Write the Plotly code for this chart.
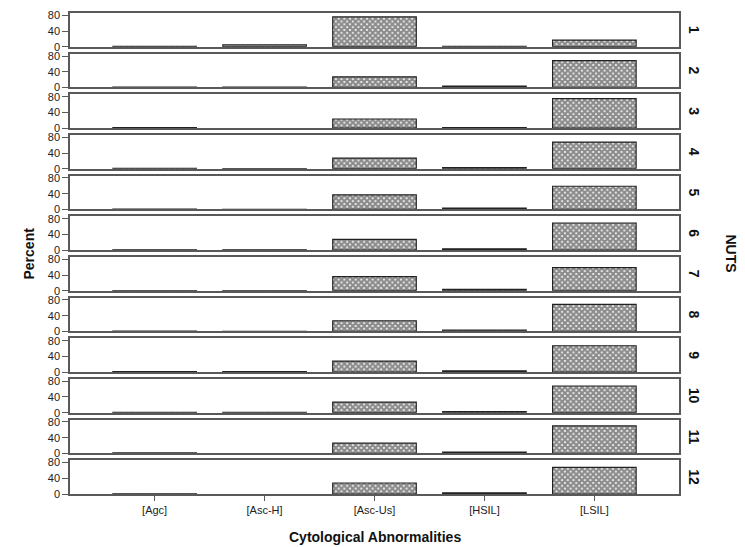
import plotly.graph_objects as go
from plotly.subplots import make_subplots

# Cytological abnormality categories and NUTS regions
categories = ["[Agc]", "[Asc-H]", "[Asc-Us]", "[HSIL]", "[LSIL]"]
nuts = ["1", "2", "3", "4", "5", "6", "7", "8", "9", "10", "11", "12"]

# Percent of cases per category, one value per NUTS region (1..12)
agc = [1, 1, 1, 1, 0.5, 0.5, 0.5, 0.5, 1, 1, 1, 0.5]
asc_h = [5, 0.5, None, 0.3, 0.3, 0.5, 0.5, 0.3, 1, 1, None, None]
asc_us = [76, 27, 23, 27, 37, 27, 36, 27, 28, 27, 26, 28]
hsil = [1, 3, 1, 3, 3, 3, 3.5, 3.5, 3, 3, 3, 3]
lsil = [17, 68, 75, 68, 59, 69, 59, 69, 67, 68, 70, 68]

FONT = "Liberation Sans, Arial, sans-serif"
LINE = "#595959"
n = len(nuts)

fig = make_subplots(rows=n, cols=1, shared_xaxes=False,
                    vertical_spacing=7 / 485)

for i in range(n):
    vals = [agc[i], asc_h[i], asc_us[i], hsil[i], lsil[i]]
    fig.add_trace(
        go.Bar(
            x=categories, y=vals, width=0.76,
            marker=dict(
                color="white",
                line=dict(color="#222222", width=1.2),
                pattern=dict(shape="x", fgcolor="#1a1a1a", bgcolor="#ffffff",
                             size=4, solidity=0.8),
            ),
            showlegend=False, hoverinfo="x+y",
        ),
        row=i + 1, col=1,
    )
    last = i == n - 1
    fig.update_xaxes(
        type="category", categoryorder="array", categoryarray=categories,
        range=[-0.77, 4.77], showline=True, mirror=True, linecolor=LINE,
        linewidth=1.5, showgrid=False, zeroline=False,
        showticklabels=last, ticks="outside" if last else "",
        ticklen=5, tickcolor=LINE, tickwidth=1,
        tickfont=dict(family=FONT, size=11, color="#222222"),
        row=i + 1, col=1,
    )
    fig.update_yaxes(
        range=[0, 86], tickvals=[0, 40, 80], ticks="outside", ticklen=6,
        tickcolor=LINE, tickwidth=1, showline=True, mirror=True,
        linecolor=LINE, linewidth=1.5, showgrid=False, zeroline=False,
        tickfont=dict(family=FONT, size=11, color="#222222"),
        row=i + 1, col=1,
    )

# Facet labels on the right
annotations = []
for i, label in enumerate(nuts):
    yax = fig.layout["yaxis" if i == 0 else f"yaxis{i + 1}"]
    yc = (yax.domain[0] + yax.domain[1]) / 2
    annotations.append(dict(
        text=f"<b>{label}</b>", xref="paper", yref="paper", x=1, y=yc,
        xanchor="center", yanchor="middle", xshift=15, textangle=90,
        showarrow=False, font=dict(family=FONT, size=14, color="#111111"),
    ))

annotations += [
    dict(text="<b>NUTS</b>", xref="paper", yref="paper", x=1, y=0.5,
         xanchor="center", yanchor="middle", xshift=52, textangle=90,
         showarrow=False, font=dict(family=FONT, size=14, color="#111111")),
    dict(text="<b>Percent</b>", xref="paper", yref="paper", x=0, y=0.5,
         xanchor="center", yanchor="middle", xshift=-42, textangle=-90,
         showarrow=False, font=dict(family=FONT, size=14, color="#111111")),
    dict(text="<b>Cytological Abnormalities</b>", xref="paper", yref="paper",
         x=0.5, y=0, xanchor="center", yanchor="middle", yshift=-43,
         showarrow=False, font=dict(family=FONT, size=14, color="#111111")),
]

fig.update_layout(
    width=745, height=547,
    margin=dict(l=70, r=66, t=9, b=53),
    paper_bgcolor="white", plot_bgcolor="white",
    bargap=0.24, annotations=annotations,
    font=dict(family=FONT),
)

fig.write_html("out.html")
